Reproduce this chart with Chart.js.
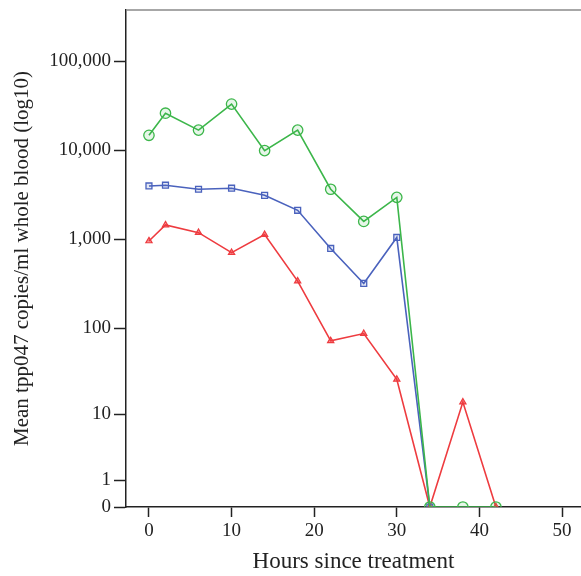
<!DOCTYPE html>
<html>
<head>
<meta charset="utf-8">
<script src="https://cdn.jsdelivr.net/npm/chart.js@4/dist/chart.umd.min.js"></script>
<style>
  html, body { margin: 0; padding: 0; background: #fff; overflow: hidden; }
  #wrap { width: 581px; height: 576px; position: relative; }
</style>
</head>
<body>
<div id="wrap"><canvas id="c"></canvas></div>
<script>
// Sampling times (hours since treatment)
const hours = [0, 2, 6, 10, 14, 18, 22, 26, 30, 34, 38, 42];

// Mean tpp047 copies/ml whole blood per group
const seriesGreen = [14700, 26000, 16800, 32900, 9900, 16800, 3650, 1590, 2960, 0, 0, 0];
const seriesBlue  = [3970, 4050, 3650, 3750, 3120, 2120, 790, 320, 1050, 0, null, null];
const seriesRed   = [960, 1450, 1190, 710, 1130, 340, 72, 87, 26, 0, 14, 0];

// Y tick values (copies/ml), shown on a log10(v + 1) scale
const yTickValues = [0, 1, 10, 100, 1000, 10000, 100000];
const xTickValues = [0, 10, 20, 30, 40, 50];

const tr = v => Math.log10(v + 1);
const toPoints = vals => hours.map((h, i) => ({ x: h, y: vals[i] === null ? null : tr(vals[i]) }));

const FONT = "'Liberation Serif', 'Times New Roman', serif";
const INK = '#222';

// Top frame line of the plot box
const frameTop = {
  id: 'frameTop',
  afterDraw(chart) {
    const { ctx, chartArea: a } = chart;
    ctx.save();
    ctx.strokeStyle = '#8a8a8a';
    ctx.lineWidth = 1.5;
    ctx.beginPath();
    ctx.moveTo(a.left, a.top);
    ctx.lineTo(chart.width, a.top);
    ctx.stroke();
    ctx.restore();
  }
};

new Chart(document.getElementById('c'), {
  type: 'line',
  data: {
    datasets: [
      {
        data: toPoints(seriesGreen),
        borderColor: '#3cb64a',
        backgroundColor: 'rgba(60,182,74,0.12)',
        pointBackgroundColor: 'rgba(60,182,74,0.12)',
        pointStyle: 'circle',
        pointRadius: 5.2,
        pointBorderWidth: 1.3,
        borderWidth: 1.6,
        spanGaps: false
      },
      {
        data: toPoints(seriesBlue),
        borderColor: '#4a62bd',
        backgroundColor: 'rgba(74,98,189,0.15)',
        pointBackgroundColor: 'rgba(74,98,189,0.15)',
        pointStyle: 'rect',
        pointRadius: 4.2,
        pointBorderWidth: 1.3,
        borderWidth: 1.6,
        spanGaps: false
      },
      {
        data: toPoints(seriesRed),
        borderColor: '#ee3b3f',
        backgroundColor: 'rgba(238,59,63,0.55)',
        pointBackgroundColor: 'rgba(238,59,63,0.55)',
        pointStyle: 'triangle',
        pointRadius: 3.6,
        pointBorderWidth: 1.2,
        borderWidth: 1.6,
        spanGaps: false
      }
    ]
  },
  options: {
    responsive: true,
    maintainAspectRatio: false,
    animation: false,
    layout: { autoPadding: false, padding: { top: 10, right: 0, left: 0, bottom: 0 } },
    plugins: { legend: { display: false }, tooltip: { enabled: false } },
    elements: { line: { tension: 0 } },
    scales: {
      x: {
        type: 'linear',
        min: -2.78,
        max: 52.3,
        afterBuildTicks: s => { s.ticks = xTickValues.map(v => ({ value: v })); },
        afterFit: s => { s.height = 69; s.paddingLeft = 0; s.paddingRight = 0; },
        grid: { drawOnChartArea: false, drawTicks: true, tickLength: 10, tickColor: INK, tickWidth: 1.5 },
        border: { display: true, color: INK, width: 1.5 },
        ticks: { color: INK, font: { family: FONT, size: 19 }, padding: 3, maxRotation: 0 },
        title: { display: true, text: 'Hours since treatment', color: INK, font: { family: FONT, size: 23 }, padding: { top: 0, bottom: 0 } }
      },
      y: {
        type: 'linear',
        min: 0,
        max: tr(100000) + 0.572,
        afterBuildTicks: s => { s.ticks = yTickValues.map(v => ({ value: tr(v) })); },
        afterFit: s => { s.width = 126; s.paddingTop = 0; s.paddingBottom = 0; },
        grid: { drawOnChartArea: false, drawTicks: true, tickLength: 12, tickColor: INK, tickWidth: 1.5 },
        border: { display: true, color: INK, width: 1.5 },
        ticks: {
          color: INK,
          font: { family: FONT, size: 19 },
          padding: 3,
          callback: (val, idx) => yTickValues[idx].toLocaleString('en-US')
        },
        title: { display: true, text: 'Mean tpp047 copies/ml whole blood (log10)', color: INK, font: { family: FONT, size: 21 }, padding: { top: 10, bottom: 0 } }
      }
    }
  },
  plugins: [frameTop]
});
</script>
</body>
</html>
